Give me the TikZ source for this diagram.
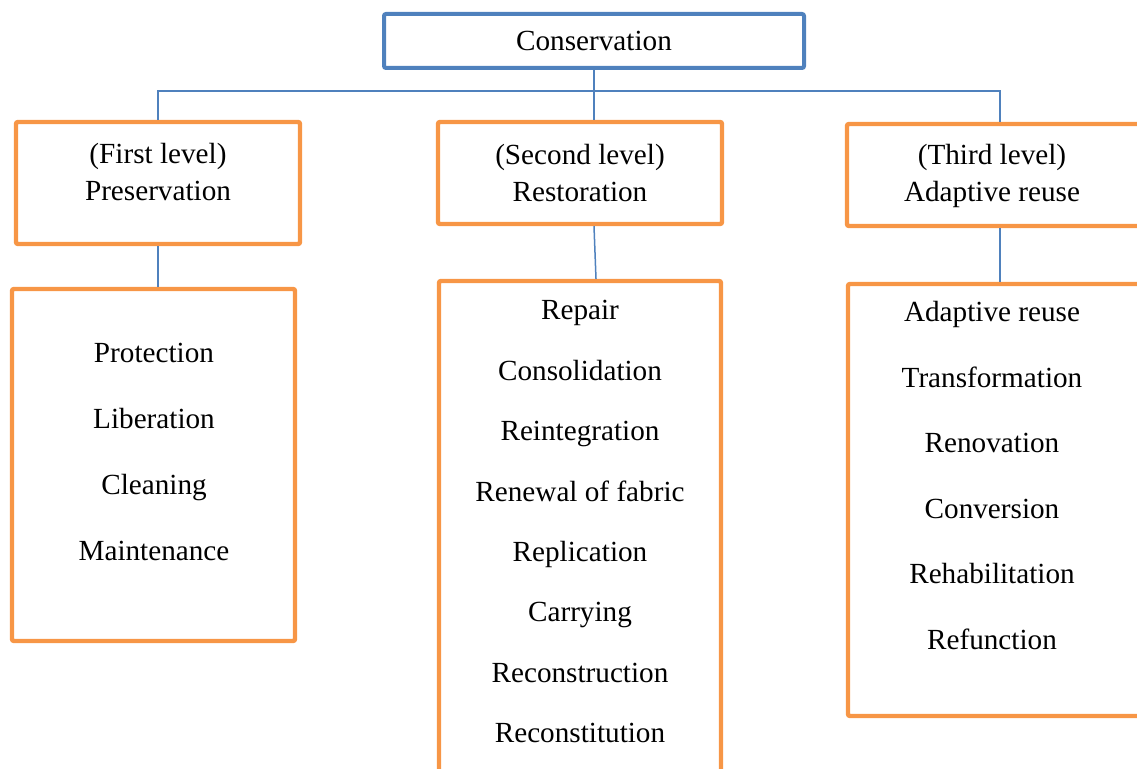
\documentclass[tikz,border=0pt]{standalone}
\usepackage{fontspec}
\setmainfont{Liberation Serif}
\usepackage{tikz}
\usetikzlibrary{positioning,calc}
\definecolor{consBlue}{RGB}{79,129,189}
\definecolor{consOrange}{RGB}{247,150,70}

\begin{document}
\begin{tikzpicture}[
    x=0.5pt, y=-0.5pt,
    topbox/.style={rectangle, rounded corners=1pt, draw=consBlue, line width=2pt, minimum width=210pt, minimum height=27pt, inner sep=0pt, font=\fontsize{14.6}{18.75}\selectfont},
    levelbox/.style={rectangle, rounded corners=1pt, draw=consOrange, line width=2.2pt, minimum width=142pt, inner sep=0pt},
    listbox/.style={rectangle, rounded corners=1pt, draw=consOrange, line width=2.2pt, inner sep=0pt},
    lbl/.style={font=\fontsize{14.6}{18.75}\selectfont, align=center, inner sep=0pt, anchor=base},
    link/.style={draw=consBlue, line width=0.75pt}
]
\clip (0,0) rectangle (1137,769);
% top of the tree
\node[topbox] (cons) at (594,41) {Conservation};
% the three levels
\node[levelbox, minimum height=61pt] (lev1) at (158,183) {};
\node[levelbox, minimum height=51pt] (lev2) at (580,173) {};
\node[levelbox, minimum width=150pt, minimum height=51pt] (lev3) at (997,175) {};
\node[lbl] (lev1txt) at (158,201) {(First level)\\Preservation};
\node[lbl] (lev2txt) at (580,202) {(Second level)\\Restoration};
\node[lbl] (lev3txt) at (992,202) {(Third level)\\Adaptive reuse};
% lists under each level
\node[listbox, minimum width=141.5pt, minimum height=176pt] (prelist) at (153.5,465) {};
\node[listbox, minimum width=141pt, minimum height=248pt] (reslist) at (580,529) {};
\node[listbox, minimum width=148.5pt, minimum height=216pt] (adalist) at (996.5,500) {};
\foreach \txt [count=\i] in {Protection,Liberation,Cleaning,Maintenance}
  \node[lbl] (pre\i) at (154,{363+66*(\i-1)}) {\txt};
\foreach \txt [count=\i] in {Repair,Consolidation,Reintegration,Renewal of fabric,Replication,Carrying,Reconstruction,Reconstitution}
  \node[lbl] (res\i) at (580,{320+60.4*(\i-1)}) {\txt};
\foreach \txt [count=\i] in {Adaptive reuse,Transformation,Renovation,Conversion,Rehabilitation,Refunction}
  \node[lbl] (ada\i) at (992,{322+65.5*(\i-1)}) {\txt};
% connectors
\coordinate (busL) at (158,91);
\coordinate (busR) at (1000,91);
\draw[link] (cons.south) -- (lev2.north -| cons.south);
\draw[link] (lev1.north) -- (busL) -- (busR) -- (busR |- lev3.north);
\draw[link] (lev1.south) -- (prelist.north -| lev1.south);
\draw[link] (lev2.south -| cons.south) -- ([xshift=1pt]reslist.north -| cons.south);
\draw[link] (busR |- lev3.south) -- (busR |- adalist.north);
\end{tikzpicture}
\end{document}
